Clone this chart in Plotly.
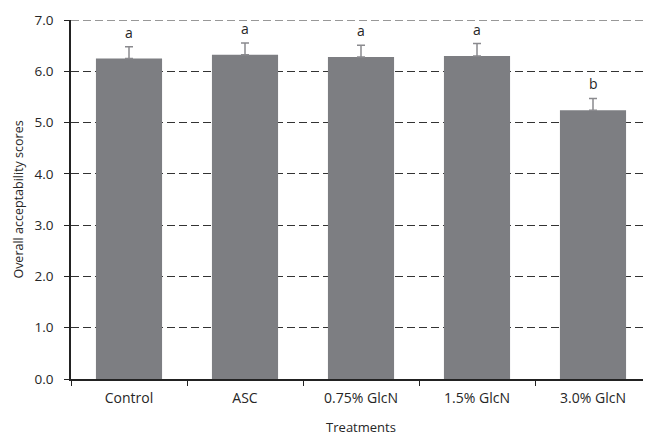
import plotly.graph_objects as go

categories = ["Control", "ASC", "0.75% GlcN", "1.5% GlcN", "3.0% GlcN"]
means = [6.25, 6.32, 6.28, 6.30, 5.24]
errors = [0.23, 0.23, 0.23, 0.24, 0.23]
letters = ["a", "a", "a", "a", "b"]
y_ticks = [0, 1, 2, 3, 4, 5, 6, 7]
y_tick_labels = ["0.0", "1.0", "2.0", "3.0", "4.0", "5.0", "6.0", "7.0"]

FONT = "Open Sans"
BAR = "#7d7e82"
TXT = "#262626"
GRID = "#333"

fig = go.Figure()
fig.add_trace(go.Bar(
    x=categories, y=means,
    marker=dict(color=BAR, line=dict(width=0)),
    error_y=dict(type="data", array=errors, symmetric=False, arrayminus=[0]*len(errors),
                 color="#8a8a8e", thickness=1.5, width=4),
    width=0.57,
))

for c, m, e, l in zip(categories, means, errors, letters):
    fig.add_annotation(x=c, y=m + e, text=l, showarrow=False, yanchor="bottom",
                       yshift=3, font=dict(family=FONT, size=14, color=TXT))

# top gridline (plotly drops the gridline lying on the plot edge)
fig.add_shape(type="line", xref="paper", yref="y", x0=0, x1=1,
              y0=y_ticks[-1], y1=y_ticks[-1],
              line=dict(color=GRID, width=1.2, dash="8px,4px"), layer="below")

# page body has an 8px default margin, so the figure is sized to fit the window
fig.update_layout(
    width=643, height=428,
    margin=dict(l=63, r=0, t=12, b=57),
    plot_bgcolor="white", paper_bgcolor="white",
    showlegend=False,
    font=dict(family=FONT, size=13, color=TXT),
    xaxis=dict(
        range=[-0.5, 4.5], showline=True, linecolor="#222", linewidth=1.5,
        ticks="outside", tickson="boundaries", ticklen=5, tickcolor="#222",
        ticklabelstandoff=5,
        showgrid=False,
        title=dict(text="Treatments", standoff=20, font=dict(family=FONT, size=13, color=TXT)),
        tickfont=dict(family=FONT, size=14, color=TXT),
    ),
    yaxis=dict(
        range=[0, 7], tickvals=y_ticks, ticktext=y_tick_labels,
        showline=True, linecolor="#222", linewidth=1.5,
        ticks="outside", ticklen=5, tickcolor="#222",
        ticklabelstandoff=8,
        showgrid=True, gridcolor=GRID, gridwidth=1, griddash="8px,4px",
        zeroline=False,
        title=dict(text="Overall acceptability scores", standoff=8, font=dict(family=FONT, size=12.5, color=TXT)),
        tickfont=dict(family=FONT, size=13.5, color=TXT),
    ),
)

fig.write_html("out.html")
